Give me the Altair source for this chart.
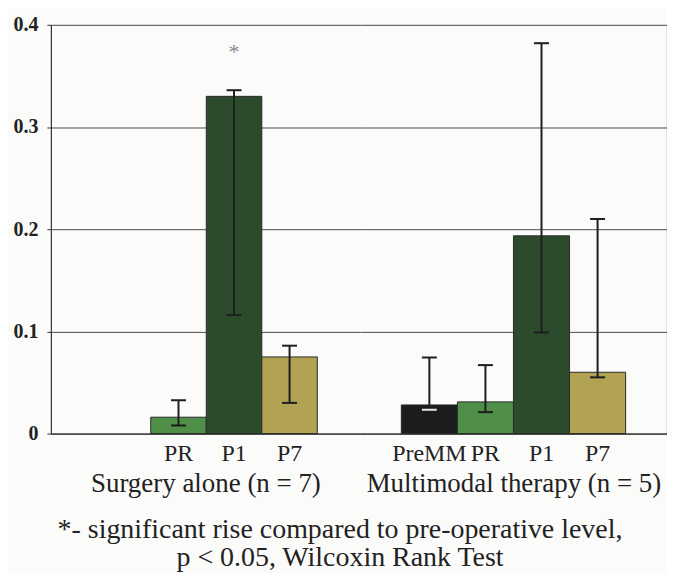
import altair as alt
import pandas as pd

# ---- data ----
surgery_cats = ["PR", "P1", "P7"]
surgery_vals = [0.016, 0.330, 0.075]
surgery_low = [0.008, 0.116, 0.030]
surgery_high = [0.0325, 0.336, 0.086]

multi_cats = ["PreMM", "PR", "P1", "P7"]
multi_vals = [0.028, 0.031, 0.1935, 0.060]
multi_low = [0.0234, 0.021, 0.099, 0.055]
multi_high = [0.0745, 0.067, 0.382, 0.210]

phase_domain = ["PreMM", "PR", "P1", "P7"]
phase_colors = ["#1c1c1c", "#4f8f48", "#2c4b2c", "#b2a253"]

star_cat = "P1"
star_value = 0.373

group_titles = ["Surgery alone (n = 7)", "Multimodal therapy (n = 5)"]
footnote = ["*- significant rise compared to pre-operative level,",
            "p < 0.05, Wilcoxin Rank Test"]

SERIF = "Liberation Serif, Times New Roman, Times, serif"
GRID = "#4a4a4a"
SPACER = " "
ERR = "#1e1e1e"


def panel(cats, vals, lo, hi, title, slots, pad_outer, align, width, left):
    df = pd.DataFrame({"cat": cats, "val": vals, "lo": lo, "hi": hi})
    xscale = alt.Scale(domain=slots, paddingInner=0, paddingOuter=pad_outer, align=align)
    xaxis = alt.Axis(title=title, labelAngle=0, ticks=False, tickSize=0, domain=True,
                     domainColor="#333333", domainWidth=1.2, grid=False,
                     labelFont=SERIF, labelFontSize=24, labelColor="#222222", labelPadding=8,
                     titleFont=SERIF, titleFontSize=27, titleFontWeight="normal",
                     titleColor="#222222", titlePadding=5)
    x = alt.X("cat:N", scale=xscale, axis=xaxis)
    yscale = alt.Scale(domain=[0, 0.4], nice=False)
    if left:
        yaxis = alt.Axis(title=None, orient="left", values=[0, 0.1, 0.2, 0.3, 0.4],
                         labelExpr="datum.value == 0 ? '0' : format(datum.value, '.1f')",
                         labelFont=SERIF, labelFontSize=20, labelFontWeight="bold",
                         labelColor="#222222", labelPadding=9, tickSize=4, tickColor="#333333",
                         domain=True, domainColor="#333333", domainWidth=1.2,
                         grid=True, gridColor=GRID, gridWidth=1, gridOpacity=1)
    else:
        yaxis = alt.Axis(title=None, orient="right", values=[0, 0.1, 0.2, 0.3, 0.4],
                         labels=False, ticks=False, domain=True, domainColor="#333333",
                         domainWidth=1.2, grid=True, gridColor=GRID, gridWidth=1, gridOpacity=1)
    base = alt.Chart(df)
    bars = base.mark_bar(stroke="#2a2a2a", strokeWidth=1).encode(
        x=x,
        y=alt.Y("val:Q", scale=yscale, axis=yaxis),
        color=alt.Color("cat:N", scale=alt.Scale(domain=phase_domain, range=phase_colors), legend=None),
    )
    rules = base.mark_rule(color=ERR, strokeWidth=2).encode(
        x=x, y=alt.Y("lo:Q", scale=yscale, axis=yaxis), y2="hi:Q")
    cap_hi = base.mark_tick(orient="horizontal", size=15, thickness=2, opacity=1).encode(
        x=x, y=alt.Y("hi:Q", scale=yscale, axis=yaxis), color=alt.value(ERR))
    cap_lo = base.mark_tick(orient="horizontal", size=15, thickness=2, opacity=1).encode(
        x=x, y=alt.Y("lo:Q", scale=yscale, axis=yaxis),
        color=alt.condition(alt.datum.cat == "PreMM", alt.value("#e6e6e6"), alt.value(ERR)))
    layers = [bars, rules, cap_hi, cap_lo]
    if left:
        sdf = pd.DataFrame({"cat": [star_cat], "v": [star_value], "t": ["*"]})
        star = alt.Chart(sdf).mark_text(font=SERIF, fontSize=22, color="#8a8a8a", baseline="middle").encode(
            x=x, y=alt.Y("v:Q", scale=yscale, axis=yaxis), text="t:N")
        layers.append(star)
    return alt.layer(*layers).properties(width=width, height=410)


left_panel = panel(surgery_cats, surgery_vals, surgery_low, surgery_high, group_titles[0],
                   [SPACER] + surgery_cats, 0.783, 0.51, 310, True)
right_panel = panel(multi_cats, multi_vals, multi_low, multi_high, group_titles[1],
                    multi_cats, 0.738, 0.5, 308, False)

chart = alt.hconcat(left_panel, right_panel, spacing=0).properties(
    title=alt.TitleParams(text=footnote, orient="bottom", anchor="middle", font=SERIF,
                          fontSize=28, fontWeight="normal", color="#222222",
                          lineHeight=28, offset=20),
    background="#fbfbfa",
    padding={"left": 5, "top": 6, "right": 0, "bottom": 0},
).configure_view(stroke=None).configure_concat(spacing=0)

chart.save("out.html", embed_options={"renderer": "svg", "actions": False})
